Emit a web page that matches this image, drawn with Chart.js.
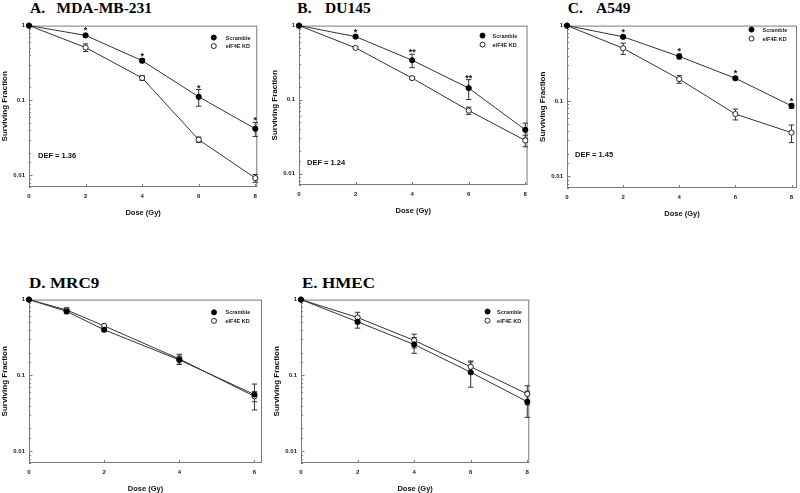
<!DOCTYPE html>
<html><head><meta charset="utf-8">
<script src="https://cdn.jsdelivr.net/npm/chart.js@4"></script>
<style>
html,body{margin:0;padding:0;background:#fff;}
body{width:800px;height:493px;position:relative;overflow:hidden;}
.ttl{position:absolute;font-family:"Liberation Serif","Times New Roman",serif;font-weight:bold;line-height:16px;white-space:pre;color:#000;transform-origin:0 0;}
canvas{position:absolute;}
</style></head><body>
<script>
// ---------- DATA ----------
const panelLetters = ['A.', 'B.', 'C.', 'D.', 'E.'];
const panelNames = ['MDA-MB-231', 'DU145', 'A549', 'MRC9', 'HMEC'];
const seriesNames = ['Scramble', 'eIF4E KD'];
const yTickLabels = ['1', '0.1', '0.01'];
const yTickValues = [1, 0.1, 0.01];
const xTickStep = 2;
const yMin = 0.007, yMax = 1;
const xAxisTitle = 'Dose (Gy)';
const yAxisTitle = 'Surviving Fraction';

const doseA = [0, 2, 4, 6, 8];
const scrA = [1, 0.74, 0.34, 0.112, 0.042];
const scrErrA = [0, 0.03, 0.02, 0.028, 0.009];
const kdA = [1, 0.51, 0.20, 0.030, 0.0092];
const kdErrA = [0, 0.06, 0.015, 0.0025, 0.0011];
const starsA = ['', '*', '*', '*', '*'];
const defA = 'DEF = 1.36';

const doseB = [0, 2, 4, 6, 8];
const scrB = [1, 0.71, 0.34, 0.143, 0.039];
const scrErrB = [0, 0.03, 0.07, 0.043, 0.009];
const kdB = [1, 0.50, 0.195, 0.071, 0.028];
const kdErrB = [0, 0.015, 0.008, 0.008, 0.005];
const starsB = ['', '*', '**', '**', ''];
const defB = 'DEF = 1.24';

const doseC = [0, 2, 4, 6, 8];
const scrC = [1, 0.71, 0.39, 0.20, 0.086];
const scrErrC = [0, 0.03, 0.03, 0.01, 0.006];
const kdC = [1, 0.50, 0.195, 0.067, 0.038];
const kdErrC = [0, 0.085, 0.023, 0.011, 0.01];
const starsC = ['', '*', '*', '*', '*'];
const defC = 'DEF = 1.45';

const doseD = [0, 1, 2, 4, 6];
const scrD = [1, 0.70, 0.40, 0.16, 0.056];
const scrErrD = [0, 0.05, 0.02, 0.02, 0.021];
const kdD = [1, 0.73, 0.45, 0.165, 0.053];
const kdErrD = [0, 0.05, 0.02, 0.025, 0.008];
const starsD = ['', '', '', '', ''];
const defD = '';

const doseE = [0, 2, 4, 6, 8];
const scrE = [1, 0.51, 0.256, 0.11, 0.045];
const scrErrE = [0, 0.09, 0.06, 0.04, 0.017];
const kdE = [1, 0.58, 0.29, 0.13, 0.057];
const kdErrE = [0, 0.1, 0.06, 0.025, 0.016];
const starsE = ['', '', '', '', ''];
const defE = '';

// ---------- LAYOUT (page pixels) ----------
const layout = [
  {L: 29, T: 24, R: 259, B: 187, xMax: 8.07, lx: 30, nx: 56.5, ty: 0, fs: 15.5, sx: 1, leg: {dx: -43.5, dy: 12, gap: 8.5, tx: 12}, defPos: {dx: 9, dy: 130}},
  {L: 299, T: 24, R: 529, B: 185, xMax: 8.08, lx: 297.3, nx: 325, ty: 0, fs: 15.5, sx: 1, leg: {dx: -45, dy: 10, gap: 9, tx: 10}, defPos: {dx: 8, dy: 137.5}},
  {L: 567, T: 24, R: 798, B: 188, xMax: 8.195, lx: 567.7, nx: 596, ty: 0, fs: 15.5, sx: 1, leg: {dx: -45.5, dy: 4, gap: 9, tx: 11}, defPos: {dx: 8, dy: 129.5}},
  {L: 29, T: 298, R: 263, B: 463, xMax: 6.2, lx: 29.3, nx: 50, ty: 275, fs: 15.5, sx: 1.1, leg: {dx: -48, dy: 12.7, gap: 8.6, tx: 11.5}, defPos: {dx: 8, dy: 130}},
  {L: 301, T: 298, R: 531, B: 463, xMax: 8.07, lx: 301.7, nx: 321.7, ty: 275, fs: 15.5, sx: 1.1, leg: {dx: -41.7, dy: 12, gap: 9, tx: 9.5}, defPos: {dx: 8, dy: 130}}
];

const panels = [
  {dose: doseA, scr: scrA, scrErr: scrErrA, kd: kdA, kdErr: kdErrA, stars: starsA, def: defA},
  {dose: doseB, scr: scrB, scrErr: scrErrB, kd: kdB, kdErr: kdErrB, stars: starsB, def: defB},
  {dose: doseC, scr: scrC, scrErr: scrErrC, kd: kdC, kdErr: kdErrC, stars: starsC, def: defC},
  {dose: doseD, scr: scrD, scrErr: scrErrD, kd: kdD, kdErr: kdErrD, stars: starsD, def: defD},
  {dose: doseE, scr: scrE, scrErr: scrErrE, kd: kdE, kdErr: kdErrE, stars: starsE, def: defE}
];

const FONT = '"Liberation Sans", Arial, sans-serif';
const YW = 30, XH = 32, PADT = 6, PADR = 4;

function isPow10(v) { const l = Math.log10(v); return Math.abs(l - Math.round(l)) < 1e-6; }

const decor = {
  id: 'decor',
  beforeDatasetsDraw(chart, args, o) {
    const {ctx, chartArea: a, scales: {x, y}} = chart;
    ctx.save();
    ctx.strokeStyle = '#7a7a7a';
    ctx.lineWidth = 1;
    ctx.strokeRect(a.left + 0.5, a.top + 0.5, a.right - a.left - 1, a.bottom - a.top - 1);
    y.ticks.forEach(t => {
      if (t.value < yMin || t.value > yMax) return;
      const py = Math.round(y.getPixelForValue(t.value)) + 0.5;
      const len = isPow10(t.value) ? 3.5 : 2;
      ctx.beginPath(); ctx.moveTo(a.left, py); ctx.lineTo(a.left + len, py); ctx.stroke();
    });
    x.ticks.forEach(t => {
      const px = Math.round(x.getPixelForValue(t.value)) + 0.5;
      ctx.beginPath(); ctx.moveTo(px, a.bottom); ctx.lineTo(px, a.bottom - 3); ctx.stroke();
    });
    // error bars
    ctx.strokeStyle = '#333';
    chart.data.datasets.forEach((ds, i) => {
      const err = o.errs[i];
      ds.data.forEach((p, j) => {
        const e = err[j]; if (!e) return;
        const px = x.getPixelForValue(p.x);
        const pt = y.getPixelForValue(p.y + e);
        const pb = y.getPixelForValue(Math.max(p.y - e, yMin));
        ctx.beginPath();
        ctx.moveTo(px, pt); ctx.lineTo(px, pb);
        ctx.moveTo(px - 2.7, pt); ctx.lineTo(px + 2.7, pt);
        ctx.moveTo(px - 2.7, pb); ctx.lineTo(px + 2.7, pb);
        ctx.stroke();
      });
    });
    ctx.restore();
  },
  afterDatasetsDraw(chart, args, o) {
    const {ctx, chartArea: a, scales: {x, y}} = chart;
    ctx.save();
    // stars
    const ds0 = chart.data.datasets[0];
    ctx.fillStyle = '#111';
    ctx.font = 'bold 9px ' + FONT;
    ctx.textAlign = 'center';
    ctx.textBaseline = 'alphabetic';
    o.stars.forEach((s, j) => {
      if (!s) return;
      const p = ds0.data[j];
      const px = x.getPixelForValue(p.x);
      const top = Math.min(y.getPixelForValue(p.y + o.errs[0][j]), y.getPixelForValue(p.y) - 3);
      ctx.fillText(s, px, top + 1);
    });
    // legend
    const lg = o.leg;
    chart.data.datasets.forEach((ds, i) => {
      const lx = a.right + lg.dx, ly = a.top + lg.dy + i * lg.gap;
      ctx.beginPath(); ctx.arc(lx, ly, 2.5, 0, 2 * Math.PI);
      ctx.fillStyle = ds.pointBackgroundColor; ctx.fill();
      ctx.strokeStyle = ds.pointBorderColor; ctx.lineWidth = 1; ctx.stroke();
      ctx.fillStyle = '#222'; ctx.font = 'bold 5.5px ' + FONT;
      ctx.textAlign = 'left'; ctx.textBaseline = 'middle';
      ctx.fillText(ds.label, lx + lg.tx, ly + 0.5);
    });
    // DEF text
    if (o.def) {
      ctx.fillStyle = '#111'; ctx.font = 'bold 7.5px ' + FONT;
      ctx.textAlign = 'left'; ctx.textBaseline = 'middle';
      ctx.fillText(o.def, a.left + o.defPos.dx, a.top + o.defPos.dy);
    }
    ctx.restore();
  }
};

panels.forEach((pn, k) => {
  const lo = layout[k];
  [[panelLetters[k], lo.lx], [panelNames[k], lo.nx]].forEach(([txt, left]) => {
    const t = document.createElement('div');
    t.className = 'ttl'; t.textContent = txt;
    t.style.left = left + 'px'; t.style.top = lo.ty + 'px';
    t.style.fontSize = lo.fs + 'px';
    t.style.transform = 'scaleX(' + lo.sx + ')';
    document.body.appendChild(t);
  });

  const cv = document.createElement('canvas');
  const w = lo.R - lo.L + YW + PADR, h = lo.B - lo.T + PADT + XH;
  cv.width = w; cv.height = h;
  cv.style.left = (lo.L - YW) + 'px'; cv.style.top = (lo.T - PADT) + 'px';
  cv.style.width = w + 'px'; cv.style.height = h + 'px';
  document.body.appendChild(cv);

  const mk = (vals) => pn.dose.map((d, j) => ({x: d, y: vals[j]}));
  new Chart(cv, {
    type: 'line',
    data: {
      datasets: [
        {label: seriesNames[0], data: mk(pn.scr), borderColor: '#333', borderWidth: 1,
         pointBackgroundColor: '#000', pointBorderColor: '#000', pointRadius: 2.6, pointBorderWidth: 1,
         tension: 0, clip: false},
        {label: seriesNames[1], data: mk(pn.kd), borderColor: '#333', borderWidth: 1,
         pointBackgroundColor: '#fff', pointBorderColor: '#222', pointRadius: 2.6, pointBorderWidth: 1,
         tension: 0, clip: false}
      ]
    },
    options: {
      responsive: false, animation: false, devicePixelRatio: 1,
      layout: {padding: {top: PADT, right: PADR, left: 0, bottom: 0}},
      plugins: {
        legend: {display: false}, tooltip: {enabled: false},
        decor: {errs: [pn.scrErr, pn.kdErr], stars: pn.stars, def: pn.def, defPos: lo.defPos, leg: lo.leg}
      },
      scales: {
        x: {
          type: 'linear', min: 0, max: lo.xMax,
          grid: {display: false, drawTicks: false}, border: {display: false},
          ticks: {stepSize: xTickStep, includeBounds: false, color: '#222', padding: 6,
                  font: {family: FONT, size: 6, weight: 'bold'}, maxRotation: 0},
          title: {display: true, text: xAxisTitle, color: '#111', padding: {top: 0, bottom: 1.5},
                  font: {family: FONT, size: 7.5, weight: 'bold'}},
          afterFit: s => { s.height = XH; }
        },
        y: {
          type: 'logarithmic', min: yMin, max: yMax,
          grid: {display: false, drawTicks: false}, border: {display: false},
          ticks: {autoSkip: false, color: '#222', padding: 4,
                  font: {family: FONT, size: 6, weight: 'bold'},
                  callback: v => { const i = yTickValues.findIndex(q => Math.abs(q - v) < q * 1e-6); return i >= 0 ? yTickLabels[i] : ''; }},
          title: {display: true, text: yAxisTitle, color: '#111', padding: {top: 1, bottom: 0},
                  font: {family: FONT, size: 8, weight: 'bold'}},
          afterFit: s => { s.width = YW; }
        }
      }
    },
    plugins: [decor]
  });
});
</script>
</body></html>
